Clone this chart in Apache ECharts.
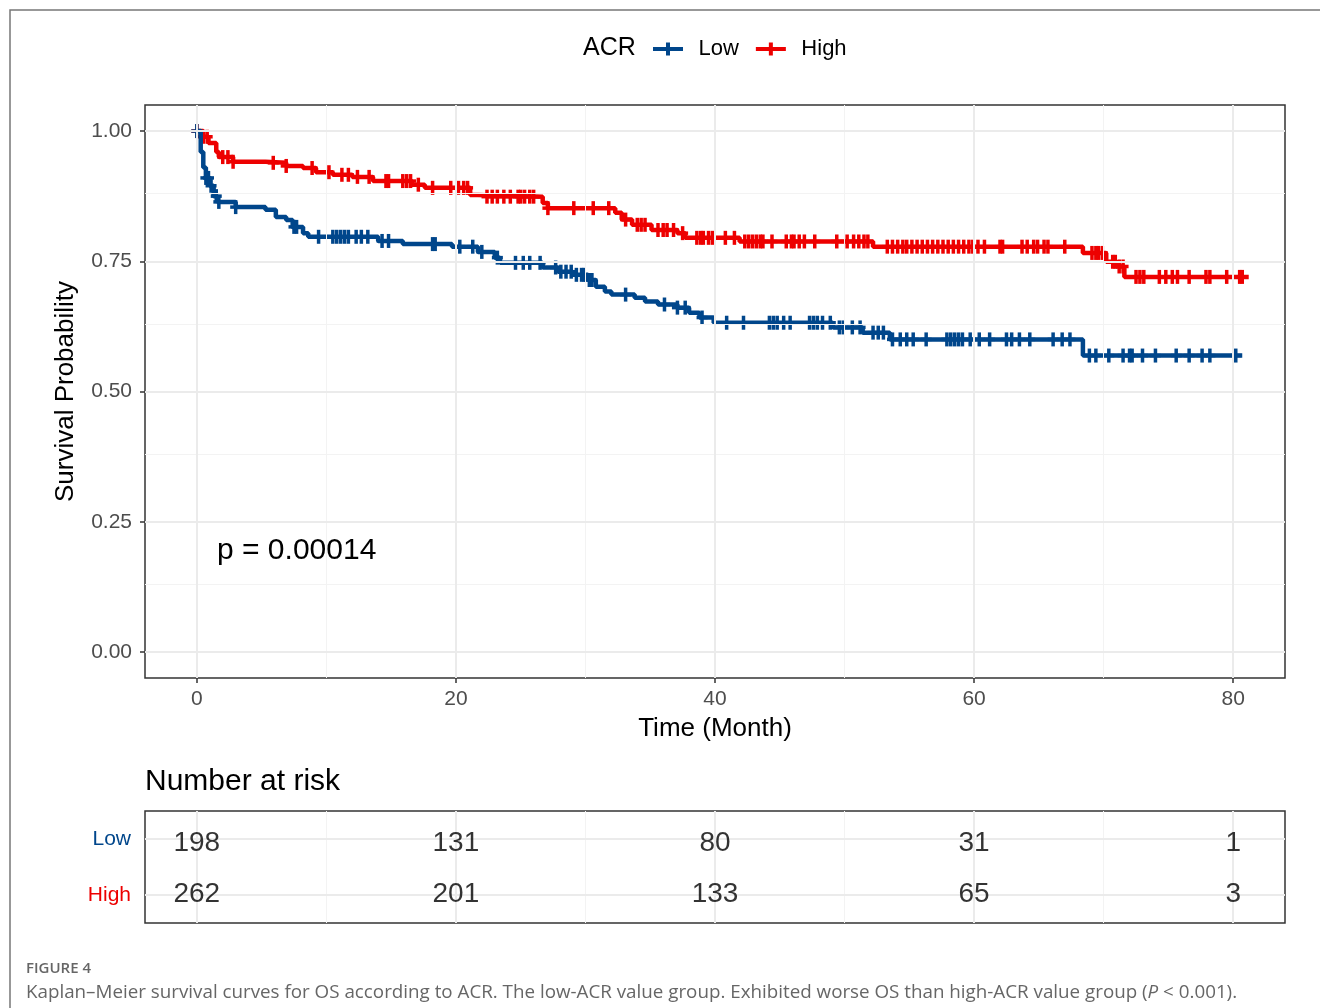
<!DOCTYPE html>
<html>
<head>
<meta charset="utf-8">
<script src="https://cdn.jsdelivr.net/npm/echarts@6/dist/echarts.min.js"></script>
<style>
html,body{margin:0;padding:0;background:#fff;}
#chart{width:1320px;height:1008px;}
</style>
</head>
<body>
<div id="chart"></div>
<script>
// ---------- data ----------
const groups = ['Low', 'High'];
const xTicks = [0, 20, 40, 60, 80];
const yTicks = [0, 0.25, 0.5, 0.75, 1.0];
const yTickLabels = ['0.00', '0.25', '0.50', '0.75', '1.00'];

// step points: survival holds from time t onward
const lowTime = [0, 0.3, 0.5, 0.7, 1.0, 1.3, 1.6, 3.0, 5.3, 6.1, 6.9, 7.4, 8.2, 8.6, 14.0, 15.9, 19.7, 21.7, 23.0, 23.4, 26.7, 27.9, 29.0, 30.2, 30.8, 31.5, 32.0, 33.8, 34.6, 35.6, 37.1, 38.0, 38.8, 39.9, 49.1, 51.4, 53.5, 68.4, 80.7];
const lowSurv = [1.0, 0.96, 0.93, 0.91, 0.895, 0.875, 0.864, 0.854, 0.849, 0.835, 0.829, 0.816, 0.804, 0.797, 0.789, 0.783, 0.778, 0.768, 0.757, 0.747, 0.738, 0.730, 0.724, 0.714, 0.701, 0.692, 0.686, 0.680, 0.673, 0.667, 0.661, 0.651, 0.642, 0.632, 0.623, 0.613, 0.600, 0.569, 0.569];

const highTime = [0, 0.5, 0.9, 1.5, 1.7, 2.8, 5.3, 6.9, 8.2, 9.2, 10.5, 12.0, 13.6, 16.6, 17.6, 21.1, 21.7, 26.7, 27.1, 32.3, 32.8, 33.6, 35.1, 37.1, 37.7, 41.9, 52.2, 68.4, 70.2, 71.0, 71.6, 81.2];
const highSurv = [1.0, 0.989, 0.977, 0.960, 0.950, 0.941, 0.939, 0.933, 0.929, 0.921, 0.916, 0.912, 0.904, 0.897, 0.891, 0.877, 0.874, 0.862, 0.852, 0.843, 0.830, 0.820, 0.810, 0.804, 0.795, 0.788, 0.778, 0.766, 0.749, 0.740, 0.720, 0.720];

// censoring times
const lowCensor = [0, 0.7, 0.9, 1.1, 1.5, 1.7, 3.0, 7.5, 7.7, 9.4, 10.5, 10.8, 11.1, 11.4, 11.7, 12.3, 12.7, 13.2, 14.3, 14.8, 18.2, 18.4, 20.3, 21.3, 22.0, 23.2, 24.6, 25.2, 25.7, 26.5, 27.7, 28.1, 28.5, 28.9, 29.3, 29.7, 29.9, 30.3, 30.5, 33.1, 36.1, 37.1, 37.7, 39.0, 40.9, 42.2, 44.2, 44.5, 44.8, 45.3, 45.8, 47.3, 47.6, 47.9, 48.3, 48.9, 49.6, 49.9, 50.6, 51.2, 52.2, 52.6, 53.0, 53.7, 54.3, 54.8, 55.3, 56.3, 57.9, 58.2, 58.5, 58.8, 59.1, 59.7, 60.4, 61.2, 62.5, 62.9, 63.5, 64.3, 66.1, 66.8, 67.4, 68.9, 69.4, 70.4, 71.5, 72.0, 72.2, 73.0, 74.0, 75.6, 76.6, 77.6, 78.2, 80.2];
const highCensor = [0, 0.5, 0.8, 2.0, 2.4, 2.8, 5.9, 6.9, 8.9, 10.2, 11.2, 11.7, 12.4, 13.3, 14.6, 14.8, 15.9, 16.2, 16.5, 17.1, 18.2, 19.6, 20.2, 20.6, 20.9, 22.4, 22.8, 23.2, 23.7, 24.2, 24.8, 25.0, 25.3, 25.7, 26.0, 27.1, 29.1, 30.6, 31.8, 33.1, 34.0, 34.3, 34.6, 35.6, 36.0, 36.3, 36.8, 37.5, 38.6, 38.9, 39.1, 39.5, 39.8, 40.8, 41.5, 42.3, 42.6, 42.9, 43.2, 43.5, 43.7, 44.4, 45.5, 45.9, 46.1, 46.5, 46.9, 47.7, 49.4, 50.2, 50.7, 51.1, 51.5, 51.8, 53.3, 53.7, 54.1, 54.5, 54.8, 55.2, 55.6, 56.0, 56.4, 56.8, 57.2, 57.6, 58.0, 58.4, 58.8, 59.2, 59.6, 59.9, 60.3, 60.8, 62.0, 62.2, 63.7, 64.1, 64.6, 64.9, 65.4, 65.7, 67.0, 69.1, 69.4, 69.6, 69.9, 70.7, 70.9, 71.2, 71.5, 72.5, 72.8, 73.1, 74.3, 74.8, 75.3, 75.7, 76.6, 77.9, 78.2, 79.5, 80.5, 80.7];

// number at risk at xTicks
const riskLow = [198, 131, 80, 31, 1];
const riskHigh = [262, 201, 133, 65, 3];

const pText = 'p = 0.00014';
// ---------- end data ----------

const BLUE = '#00468B', RED = '#ED0000';
const GRID_MAJOR = '#EBEBEB', GRID_MINOR = '#F3F3F3';
const FONT = 'Liberation Sans, Arial, sans-serif';

function stepAt(times, surv, t) {
  let v = surv[0];
  for (let i = 0; i < times.length; i++) { if (times[i] <= t) v = surv[i]; else break; }
  return v;
}
const pairs = (a, b) => a.map((t, i) => [t, b[i]]);
const censorPts = (c, times, surv) => c.map(t => [t, stepAt(times, surv, t)]);

const LEGEND_ICON = 'path://M0,4.5 L30,4.5 L30,8.5 L0,8.5 Z M13,0 L17,0 L17,13 L13,13 Z';

// plus-shaped censor marks placed through the axis scales
function plusRenderer(color) {
  return function (params, api) {
    const p = api.coord([api.value(0), api.value(1)]);
    return {
      type: 'group',
      children: [
        { type: 'rect', shape: { x: p[0] - 1.75, y: p[1] - 7, width: 3.5, height: 14 }, style: { fill: color } },
        { type: 'rect', shape: { x: p[0] - 5.5, y: p[1] - 1.75, width: 11, height: 3.5 }, style: { fill: color } }
      ]
    };
  };
}

const solid = (color, width) => ({ color, width, type: 'solid' });
// grid lines through the library's scales (markLines)
const xMajor = [0, 20, 40, 60, 80], xMinor = [10, 30, 50, 70];
const yMajor = [0, 0.25, 0.5, 0.75, 1.0], yMinor = [0.125, 0.375, 0.625, 0.875];
const mlMain = []
  .concat(xMinor.map(v => ({ xAxis: v, lineStyle: solid(GRID_MINOR, 1) })))
  .concat(yMinor.map(v => ({ yAxis: v, lineStyle: solid(GRID_MINOR, 1) })))
  .concat(xMajor.map(v => ({ xAxis: v, lineStyle: solid(GRID_MAJOR, 2) })))
  .concat(yMajor.map(v => ({ yAxis: v, lineStyle: solid(GRID_MAJOR, 2) })));
const mlTable = []
  .concat(xMinor.map(v => ({ xAxis: v, lineStyle: solid(GRID_MINOR, 1) })))
  .concat(xMajor.map(v => ({ xAxis: v, lineStyle: solid(GRID_MAJOR, 2) })))
  .concat(['Low', 'High'].map(v => ({ yAxis: v, lineStyle: solid(GRID_MAJOR, 2) })));

const riskData = xTicks.map((t, i) => ({ value: [t, 'Low', riskLow[i]], label: { offset: [0, 4] } }))
  .concat(xTicks.map((t, i) => ({ value: [t, 'High', riskHigh[i]], label: { offset: [0, -1] } })));

const chart = echarts.init(document.getElementById('chart'), null, { renderer: 'canvas' });

const option = {
  backgroundColor: '#fff',
  animation: false,
  textStyle: { fontFamily: FONT },
  legend: {
    data: [{ name: 'Low', icon: LEGEND_ICON, itemStyle: { color: BLUE, opacity: 1 } }, { name: 'High', icon: LEGEND_ICON, itemStyle: { color: RED, opacity: 1 } }],
    left: 653, top: 38, itemWidth: 31, itemHeight: 13, itemGap: 17, padding: 0,
    textStyle: { fontSize: 22, color: '#000', fontFamily: FONT, padding: [0, 0, 0, 10] },
    selectedMode: false
  },
  grid: [
    { left: 145, top: 105, width: 1140, height: 573, show: true, borderColor: '#333', borderWidth: 1.5, backgroundColor: '#fff' },
    { left: 145, top: 811, width: 1140, height: 112, show: true, borderColor: '#333', borderWidth: 1.5, backgroundColor: '#fff' }
  ],
  xAxis: [
    {
      gridIndex: 0, type: 'value', min: -4, max: 84,
      name: 'Time (Month)', nameLocation: 'middle', nameGap: 38,
      nameTextStyle: { fontSize: 26, color: '#000', fontFamily: FONT },
      axisLine: { show: false, onZero: false },
      axisTick: { show: true, length: 5, lineStyle: { color: '#333', width: 1.5 }, customValues: xTicks },
      axisLabel: { fontSize: 21, color: '#4D4D4D', margin: 11, customValues: xTicks, fontFamily: FONT },
      splitLine: { show: false }
    },
    {
      gridIndex: 1, type: 'value', min: -4, max: 84,
      axisLine: { show: false, onZero: false }, axisTick: { show: false }, axisLabel: { show: false }, splitLine: { show: false }
    }
  ],
  yAxis: [
    {
      gridIndex: 0, type: 'value', min: -0.05, max: 1.05,
      name: 'Survival Probability', nameLocation: 'middle', nameGap: 66,
      nameTextStyle: { fontSize: 26, color: '#000', fontFamily: FONT },
      axisLine: { show: false, onZero: false },
      axisTick: { show: true, length: 5, lineStyle: { color: '#333', width: 1.5 }, customValues: yTicks },
      axisLabel: { fontSize: 21, color: '#4D4D4D', margin: 13, customValues: yTicks, fontFamily: FONT,
        formatter: v => { const i = yTicks.findIndex(t => Math.abs(t - v) < 1e-9); return i >= 0 ? yTickLabels[i] : ''; } },
      splitLine: { show: false }
    },
    {
      gridIndex: 1, type: 'category', data: ['High', 'Low'],
      axisLine: { show: false, onZero: false }, axisTick: { show: false }, splitLine: { show: false },
      axisLabel: { fontSize: 21, margin: 14, fontFamily: FONT, padding: [4, 0, 0, 0],
        color: v => v === 'Low' ? BLUE : RED }
    }
  ],
  series: [
    {
      name: 'gridlines', type: 'line', xAxisIndex: 0, yAxisIndex: 0, data: [], z: 0, silent: true,
      markLine: { silent: true, symbol: ['none', 'none'], label: { show: false }, animation: false, data: mlMain }
    },
    {
      name: 'High', type: 'line', step: 'end', xAxisIndex: 0, yAxisIndex: 0, z: 3,
      data: pairs(highTime, highSurv), showSymbol: false, symbol: 'none',
      lineStyle: { color: RED, width: 4.5 }, itemStyle: { color: RED }
    },
    {
      name: 'High censor', type: 'custom', xAxisIndex: 0, yAxisIndex: 0, z: 3, silent: true,
      data: censorPts(highCensor, highTime, highSurv), renderItem: plusRenderer(RED)
    },
    {
      name: 'Low', type: 'line', step: 'end', xAxisIndex: 0, yAxisIndex: 0, z: 4,
      data: pairs(lowTime, lowSurv), showSymbol: false, symbol: 'none',
      lineStyle: { color: BLUE, width: 4.5 }, itemStyle: { color: BLUE }
    },
    {
      name: 'Low censor', type: 'custom', xAxisIndex: 0, yAxisIndex: 0, z: 4, silent: true,
      data: censorPts(lowCensor, lowTime, lowSurv), renderItem: plusRenderer(BLUE)
    },
    {
      name: 'risk', type: 'scatter', xAxisIndex: 1, yAxisIndex: 1, z: 5, symbolSize: 0,
      data: riskData,
      label: { show: true, position: 'inside', formatter: p => String(p.value[2]), fontSize: 28, color: '#000', fontFamily: FONT },
      markLine: { silent: true, symbol: ['none', 'none'], label: { show: false }, animation: false, data: mlTable }
    }
  ],
  graphic: [
    { type: 'rect', shape: { x: 10, y: 10, width: 1330, height: 1020 }, style: { fill: 'none', stroke: '#777', lineWidth: 1.5 }, z: 100, silent: true },
    { type: 'text', left: 583, top: 36, style: { text: 'ACR', fill: '#000', font: '25px ' + FONT }, silent: true },
    { type: 'text', left: 217, top: 536, style: { text: pText, fill: '#000', font: '30px ' + FONT }, silent: true, z: 10 },
    { type: 'text', left: 145, top: 767, style: { text: 'Number at risk', fill: '#000', font: '30px ' + FONT }, silent: true },
    { type: 'text', left: 26, top: 961, style: { text: 'FIGURE 4', fill: '#666', font: '600 15px "Open Sans", sans-serif' }, silent: true },
    { type: 'text', left: 26, top: 983, style: {
        text: '{n|Kaplan–Meier survival curves for OS according to ACR. The low-ACR value group. Exhibited worse OS than high-ACR value group (}{i|P}{n| < 0.001).}',
        rich: {
          n: { fill: '#666', font: '18.8px "Open Sans", sans-serif' },
          i: { fill: '#666', font: 'italic 18.8px "Open Sans", sans-serif' }
        }
      }, silent: true }
  ]
};
chart.setOption(option);
</script>
</body>
</html>
